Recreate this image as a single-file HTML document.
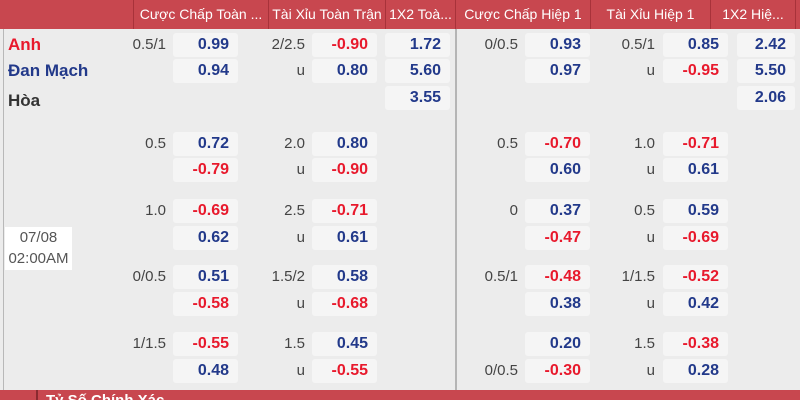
<!DOCTYPE html>
<html><head><meta charset="utf-8">
<style>
*{margin:0;padding:0;box-sizing:border-box}
html,body{width:800px;height:400px;overflow:hidden}
body{background:#ececec;font-family:"Liberation Sans",sans-serif;position:relative}
.hd{position:absolute;top:0;left:0;width:800px;height:29px;background:#c8474f}
.hc{position:absolute;top:0;height:29px;line-height:29px;color:#fff;font-size:14px;text-align:center;border-left:1px solid #a8323a;white-space:nowrap;overflow:hidden}
.b{position:absolute;width:65px;height:24px;background:#f5f5f5;border-radius:3px;font-weight:bold;font-size:16px;text-align:right;padding-right:9px;line-height:24px;color:#22398a}
.r{color:#e8192c}
.l{position:absolute;width:60px;text-align:right;font-size:15px;color:#444;line-height:24px}
.t{position:absolute;left:8px;font-weight:bold;font-size:17px;line-height:24px}
</style></head><body>
<div class="hd"></div>
<div class="hc" style="left:133px;width:135px">Cược Chấp Toàn ...</div>
<div class="hc" style="left:268px;width:117px">Tài Xỉu Toàn Trận</div>
<div class="hc" style="left:385px;width:70px">1X2 Toà...</div>
<div class="hc" style="left:455px;width:135px">Cược Chấp Hiệp 1</div>
<div class="hc" style="left:590px;width:120px">Tài Xỉu Hiệp 1</div>
<div class="hc" style="left:710px;width:85px">1X2 Hiệ...</div>
<div class="hc" style="left:795px;width:5px"></div>
<div style="position:absolute;left:3px;top:29px;width:1px;height:361px;background:#b8b8b8"></div>
<div style="position:absolute;left:455px;top:29px;width:2px;height:361px;background:#b5b5b5"></div>
<div style="position:absolute;left:0;top:390px;width:800px;height:10px;background:#c8474f;overflow:hidden">
<div style="position:absolute;left:36px;top:0;width:2px;height:10px;background:#8a2a30"></div>
<div style="position:absolute;left:46px;top:3px;color:#fff;font-size:15px;font-weight:bold;line-height:15px;white-space:nowrap">Tỷ Số Chính Xác</div>
</div>

<div class="t" style="top:33px;color:#e8192c">Anh</div>
<div class="t" style="top:59px;color:#22398a">Đan Mạch</div>
<div class="t" style="top:89px;color:#333">Hòa</div>
<div style="position:absolute;left:5px;top:227px;width:67px;height:43px;background:#fff;color:#555;font-size:15px;text-align:center;line-height:21px">07/08<br>02:00AM</div>

<div class="l" style="left:106px;top:33px">0.5/1</div><div class="b" style="left:173px;top:33px">0.99</div>
<div class="b" style="left:173px;top:59px">0.94</div>
<div class="l" style="left:245px;top:33px">2/2.5</div><div class="b r" style="left:312px;top:33px">-0.90</div>
<div class="l" style="left:245px;top:59px">u</div><div class="b" style="left:312px;top:59px">0.80</div>
<div class="b" style="left:385px;top:33px">1.72</div>
<div class="b" style="left:385px;top:59px">5.60</div>
<div class="b" style="left:385px;top:86px">3.55</div>
<div class="l" style="left:458px;top:33px">0/0.5</div><div class="b" style="left:525px;top:33px">0.93</div>
<div class="b" style="left:525px;top:59px">0.97</div>
<div class="l" style="left:595px;top:33px">0.5/1</div><div class="b" style="left:663px;top:33px">0.85</div>
<div class="l" style="left:595px;top:59px">u</div><div class="b r" style="left:663px;top:59px">-0.95</div>
<div class="b" style="left:737px;top:33px;width:58px">2.42</div>
<div class="b" style="left:737px;top:59px;width:58px">5.50</div>
<div class="b" style="left:737px;top:86px;width:58px">2.06</div>

<div class="l" style="left:106px;top:132px">0.5</div><div class="b" style="left:173px;top:132px">0.72</div>
<div class="b r" style="left:173px;top:158px">-0.79</div>
<div class="l" style="left:245px;top:132px">2.0</div><div class="b" style="left:312px;top:132px">0.80</div>
<div class="l" style="left:245px;top:158px">u</div><div class="b r" style="left:312px;top:158px">-0.90</div>
<div class="l" style="left:458px;top:132px">0.5</div><div class="b r" style="left:525px;top:132px">-0.70</div>
<div class="b" style="left:525px;top:158px">0.60</div>
<div class="l" style="left:595px;top:132px">1.0</div><div class="b r" style="left:663px;top:132px">-0.71</div>
<div class="l" style="left:595px;top:158px">u</div><div class="b" style="left:663px;top:158px">0.61</div>

<div class="l" style="left:106px;top:199px">1.0</div><div class="b r" style="left:173px;top:199px">-0.69</div>
<div class="b" style="left:173px;top:226px">0.62</div>
<div class="l" style="left:245px;top:199px">2.5</div><div class="b r" style="left:312px;top:199px">-0.71</div>
<div class="l" style="left:245px;top:226px">u</div><div class="b" style="left:312px;top:226px">0.61</div>
<div class="l" style="left:458px;top:199px">0</div><div class="b" style="left:525px;top:199px">0.37</div>
<div class="b r" style="left:525px;top:226px">-0.47</div>
<div class="l" style="left:595px;top:199px">0.5</div><div class="b" style="left:663px;top:199px">0.59</div>
<div class="l" style="left:595px;top:226px">u</div><div class="b r" style="left:663px;top:226px">-0.69</div>

<div class="l" style="left:106px;top:265px">0/0.5</div><div class="b" style="left:173px;top:265px">0.51</div>
<div class="b r" style="left:173px;top:292px">-0.58</div>
<div class="l" style="left:245px;top:265px">1.5/2</div><div class="b" style="left:312px;top:265px">0.58</div>
<div class="l" style="left:245px;top:292px">u</div><div class="b r" style="left:312px;top:292px">-0.68</div>
<div class="l" style="left:458px;top:265px">0.5/1</div><div class="b r" style="left:525px;top:265px">-0.48</div>
<div class="b" style="left:525px;top:292px">0.38</div>
<div class="l" style="left:595px;top:265px">1/1.5</div><div class="b r" style="left:663px;top:265px">-0.52</div>
<div class="l" style="left:595px;top:292px">u</div><div class="b" style="left:663px;top:292px">0.42</div>

<div class="l" style="left:106px;top:332px">1/1.5</div><div class="b r" style="left:173px;top:332px">-0.55</div>
<div class="b" style="left:173px;top:359px">0.48</div>
<div class="l" style="left:245px;top:332px">1.5</div><div class="b" style="left:312px;top:332px">0.45</div>
<div class="l" style="left:245px;top:359px">u</div><div class="b r" style="left:312px;top:359px">-0.55</div>
<div class="b" style="left:525px;top:332px">0.20</div>
<div class="l" style="left:458px;top:359px">0/0.5</div><div class="b r" style="left:525px;top:359px">-0.30</div>
<div class="l" style="left:595px;top:332px">1.5</div><div class="b r" style="left:663px;top:332px">-0.38</div>
<div class="l" style="left:595px;top:359px">u</div><div class="b" style="left:663px;top:359px">0.28</div>
</body></html>
